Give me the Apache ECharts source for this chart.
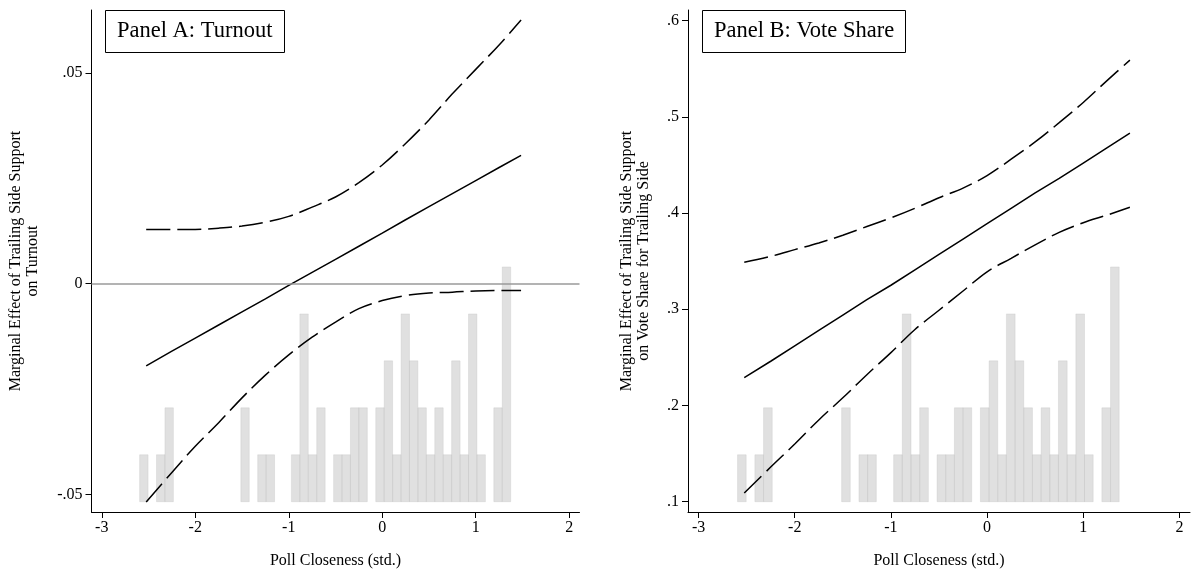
<!DOCTYPE html>
<html><head><meta charset="utf-8">
<script src="https://cdn.jsdelivr.net/npm/echarts@6/dist/echarts.min.js"></script>
<style>html,body{margin:0;padding:0;background:#fff}#chart{width:1191px;height:574px}</style>
</head><body><div id="chart"></div>
<script>
// ---- data ----
const xGrid = [-2.525, -2.25, -2, -1.75, -1.5, -1.25, -1, -0.75, -0.5, -0.25, 0, 0.25, 0.5, 0.75, 1, 1.25, 1.485];

const turnoutEffect = [-0.0195, -0.0160, -0.0129, -0.0098, -0.0067, -0.0036, -0.0004, 0.0027, 0.0058, 0.0089, 0.0120, 0.0152, 0.0183, 0.0214, 0.0245, 0.0276, 0.0305];
const turnoutUpper  = [0.0129, 0.0129, 0.0129, 0.0132, 0.0137, 0.0146, 0.0160, 0.0182, 0.0206, 0.0240, 0.0282, 0.0333, 0.0389, 0.0451, 0.0509, 0.0567, 0.0626];
const turnoutLower  = [-0.0518, -0.0448, -0.0386, -0.0330, -0.0271, -0.0217, -0.0169, -0.0127, -0.0091, -0.0059, -0.0040, -0.0028, -0.0022, -0.0020, -0.0017, -0.0016, -0.0016];

const voteEffect = [0.229, 0.246, 0.262, 0.278, 0.294, 0.310, 0.325, 0.341, 0.357, 0.373, 0.389, 0.405, 0.421, 0.436, 0.452, 0.468, 0.483];
const voteUpper  = [0.349, 0.355, 0.362, 0.369, 0.377, 0.386, 0.395, 0.405, 0.416, 0.426, 0.439, 0.456, 0.474, 0.494, 0.515, 0.538, 0.559];
const voteLower  = [0.109, 0.136, 0.160, 0.185, 0.208, 0.232, 0.255, 0.279, 0.299, 0.319, 0.339, 0.353, 0.367, 0.380, 0.390, 0.398, 0.406];

const histBinStart = -2.595;
const histBinWidth = 0.0902;
const histCounts = [1,0,1,2,0,0,0,0,0,0,0,0,2,0,1,1,0,0,1,4,1,2,0,1,1,2,2,0,2,3,1,4,3,2,1,2,1,3,1,4,1,0,2,5];

const xTicks = [-3, -2, -1, 0, 1, 2];
const xTickLabels = ['-3', '-2', '-1', '0', '1', '2'];
const yTicksA = [-0.05, 0, 0.05];
const yTickLabelsA = ['-.05', '0', '.05'];
const yTicksB = [0.1, 0.2, 0.3, 0.4, 0.5, 0.6];
const yTickLabelsB = ['.1', '.2', '.3', '.4', '.5', '.6'];

const panelTitles = ['Panel A: Turnout', 'Panel B: Vote Share'];
const xTitle = 'Poll Closeness (std.)';
const yTitleA = 'Marginal Effect of Trailing Side Support\non Turnout';
const yTitleB = 'Marginal Effect of Trailing Side Support\non Vote Share for Trailing Side';

// ---- chart ----
const FONT = "'Liberation Serif', 'Times New Roman', serif";
const chart = echarts.init(document.getElementById('chart'), null, {renderer: 'canvas'});

function labeler(ticks, labels) {
  return function (v) {
    const i = ticks.findIndex(t => Math.abs(t - v) < 1e-9);
    return i >= 0 ? labels[i] : '';
  };
}
function zip(xs, ys) { return xs.map((x, i) => [x, ys[i]]); }

const histData = [];
histCounts.forEach((c, k) => {
  if (c > 0) histData.push([histBinStart + k * histBinWidth, histBinStart + (k + 1) * histBinWidth, c]);
});

function xAxisCfg(gi) {
  return {
    type: 'value', gridIndex: gi, min: -3.11, max: 2.11,
    name: xTitle, nameLocation: 'middle', nameGap: 41, nameMoveOverlap: false,
    nameTextStyle: {fontFamily: FONT, fontSize: 16, color: '#000'},
    axisLine: {show: true, onZero: false, lineStyle: {color: '#000', width: 1}},
    axisTick: {show: true, length: 6, customValues: xTicks, lineStyle: {color: '#000', width: 1}},
    axisLabel: {show: true, customValues: xTicks, formatter: labeler(xTicks, xTickLabels), margin: 8,
      fontFamily: FONT, fontSize: 16, color: '#000'},
    splitLine: {show: false}
  };
}
function yAxisCfg(gi, min, max, ticks, labels, name, gap) {
  return {
    type: 'value', gridIndex: gi, min: min, max: max,
    name: name, nameLocation: 'middle', nameGap: gap, nameRotate: 90, nameMoveOverlap: false,
    nameTextStyle: {fontFamily: FONT, fontSize: 16, color: '#000', lineHeight: 17, align: 'center'},
    axisLine: {show: true, onZero: false, lineStyle: {color: '#000', width: 1}},
    axisTick: {show: true, length: 6, customValues: ticks, lineStyle: {color: '#000', width: 1}},
    axisLabel: {show: true, customValues: ticks, formatter: labeler(ticks, labels), margin: 9,
      fontFamily: FONT, fontSize: 16, color: '#000'},
    splitLine: {show: false}
  };
}
function countAxis(gi) {
  return {type: 'value', gridIndex: gi, min: -0.219, max: 10.473, show: false,
    axisLine: {show: false}, axisTick: {show: false}, axisLabel: {show: false}, splitLine: {show: false}};
}

function lineSeries(xi, yi, xs, ys, dashed) {
  return {
    type: 'line', xAxisIndex: xi, yAxisIndex: yi, data: zip(xs, ys),
    showSymbol: false, symbol: 'none', smooth: dashed ? 0.35 : false, silent: true,
    lineStyle: {color: '#000', width: 1.5, type: dashed ? [24, 7] : 'solid'}
  };
}
function histSeries(xi, yi) {
  return {
    type: 'custom', xAxisIndex: xi, yAxisIndex: yi, data: histData, silent: true,
    encode: {x: [0, 1], y: 2},
    renderItem: function (params, api) {
      const p0 = api.coord([api.value(0), api.value(2)]);
      const p1 = api.coord([api.value(1), 0]);
      return {
        type: 'rect',
        shape: {x: p0[0], y: p0[1], width: p1[0] - p0[0], height: p1[1] - p0[1]},
        style: {fill: 'rgba(199,199,199,0.55)', stroke: 'rgba(185,185,185,0.35)', lineWidth: 0.8}
      };
    }
  };
}

const zeroLine = lineSeries(0, 0, xGrid, turnoutEffect, false);
zeroLine.markLine = {
  silent: true, symbol: ['none', 'none'], label: {show: false},
  lineStyle: {color: '#9a9a9a', width: 1.5, type: 'solid'},
  data: [{yAxis: 0}]
};

const option = {
  backgroundColor: '#fff',
  animation: false,
  title: [
    {text: panelTitles[0], left: 105, top: 10, padding: [10, 12], borderColor: '#000', borderWidth: 1,
      textStyle: {fontFamily: FONT, fontSize: 22.5, fontWeight: 'normal', color: '#000'}},
    {text: panelTitles[1], left: 702, top: 10, padding: [10, 12], borderColor: '#000', borderWidth: 1,
      textStyle: {fontFamily: FONT, fontSize: 22.5, fontWeight: 'normal', color: '#000'}}
  ],
  grid: [
    {left: 91.5, top: 10, width: 488, height: 502, outerBoundsMode: 'none', containLabel: false},
    {left: 688, top: 10, width: 502, height: 502, outerBoundsMode: 'none', containLabel: false}
  ],
  xAxis: [xAxisCfg(0), xAxisCfg(1)],
  yAxis: [
    yAxisCfg(0, -0.0542, 0.0650, yTicksA, yTickLabelsA, yTitleA, 50),
    countAxis(0),
    yAxisCfg(1, 0.0893, 0.6111, yTicksB, yTickLabelsB, yTitleB, 36),
    countAxis(1)
  ],
  series: [
    zeroLine,
    lineSeries(0, 0, xGrid, turnoutUpper, true),
    lineSeries(0, 0, xGrid, turnoutLower, true),
    histSeries(0, 1),
    lineSeries(1, 2, xGrid, voteEffect, false),
    lineSeries(1, 2, xGrid, voteUpper, true),
    lineSeries(1, 2, xGrid, voteLower, true),
    histSeries(1, 3)
  ]
};
chart.setOption(option);
</script>
</body></html>
